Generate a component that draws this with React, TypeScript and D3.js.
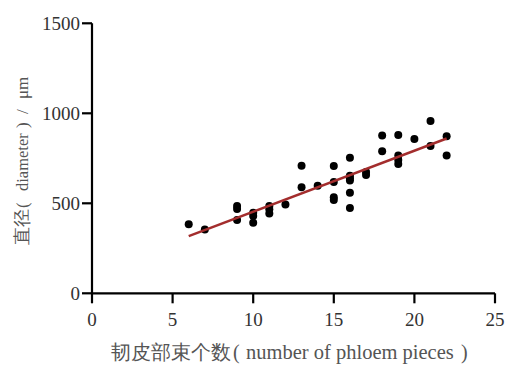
import * as React from 'react';
import * as d3 from 'd3';

// phloem pieces vs diameter (um)
const pieces = [6, 7, 9, 9, 9, 10, 10, 10, 11, 11, 11, 12, 13, 13, 14, 15, 15, 15, 15,
    16, 16, 16, 16, 16, 16, 17, 17, 18, 18, 19, 19, 19, 19, 20, 21, 21, 22, 22];
const diameter = [383, 355, 485, 468, 407, 448, 429, 392, 485, 467, 444, 494, 708, 589, 598, 707, 618, 533, 518,
    753, 653, 639, 626, 559, 474, 674, 657, 876, 789, 879, 765, 741, 718, 857, 957, 818, 872, 765];

// fitted line end points
const fitX = [6, 22];
const fitY = [318, 860];

const xTicks = [0, 5, 10, 15, 20, 25];
const yTicks = [0, 500, 1000, 1500];

const serif = { fontFamily: '"Liberation Serif"' };
const titleColor = '#555';

export default function App() {
    const width = 509;
    const height = 367;
    const margin = { top: 23.3, left: 92, bottom: 73.7, right: 14 };

    const x = d3.scaleLinear().domain([0, 25]).range([margin.left, width - margin.right]);
    const y = d3.scaleLinear().domain([0, 1500]).range([height - margin.bottom, margin.top]);

    const line = d3.line<number>()
        .x((d, i) => x(fitX[i]))
        .y(d => y(d));

    const y0 = y(0);
    const x0 = x(0);

    return (
        <svg width={width} height={height} style={{ position: 'absolute', left: 0, top: 0 }}>
            <rect width={width} height={height} fill="#fff" />
            {/* axes */}
            <line x1={x0} x2={x0} y1={y(1500)} y2={y0} stroke="#000" strokeWidth={2.2} />
            <line x1={x0} x2={x(25)} y1={y0} y2={y0} stroke="#000" strokeWidth={2.2} />
            {yTicks.map(t => (
                <g key={'y' + t}>
                    <line x1={x0 - 10} x2={x0} y1={y(t)} y2={y(t)} stroke="#000" strokeWidth={2.2} />
                    <text x={x0 - 12} y={y(t) + 6.5} textAnchor="end" style={serif}
                        fontSize={19} fill="#333">{t}</text>
                </g>
            ))}
            {xTicks.map(t => (
                <g key={'x' + t}>
                    <line x1={x(t)} x2={x(t)} y1={y0} y2={y0 + 10} stroke="#000" strokeWidth={2.2} />
                    <text x={x(t)} y={y0 + 33} textAnchor="middle" style={serif} fontSize={19} fill="#333">{t}</text>
                </g>
            ))}
            {/* points */}
            {pieces.map((p, i) => (
                <circle key={i} cx={x(p)} cy={y(diameter[i])} r={4} fill="#000" />
            ))}
            {/* fit */}
            <path d={line(fitY) || ''} fill="none" stroke="#a32d2d" strokeWidth={2.5} />
            {/* x title */}
            <g fill={titleColor} style={serif}>
                <text x={111} y={358.5} fontSize={19.5}>韧皮部束个数</text>
                <text x={233} y={358.5} fontSize={20}>(</text>
                <text x={246} y={358.5} fontSize={20.5}>number of phloem pieces</text>
                <text x={461} y={358.5} fontSize={20}>)</text>
            </g>
            {/* y title */}
            <g transform="translate(28,245) rotate(-90)" fill={titleColor} style={serif}>
                <text x={0} y={0} fontSize={17.5}>直径</text>
                <text x={37} y={0} fontSize={17}>(</text>
                <text x={54} y={0} fontSize={16.5}>diameter</text>
                <text x={117} y={0} fontSize={17}>)</text>
                <text x={131} y={0} fontSize={17}>/</text>
                <text x={146} y={0} fontSize={17}>μm</text>
            </g>
        </svg>
    );
}
